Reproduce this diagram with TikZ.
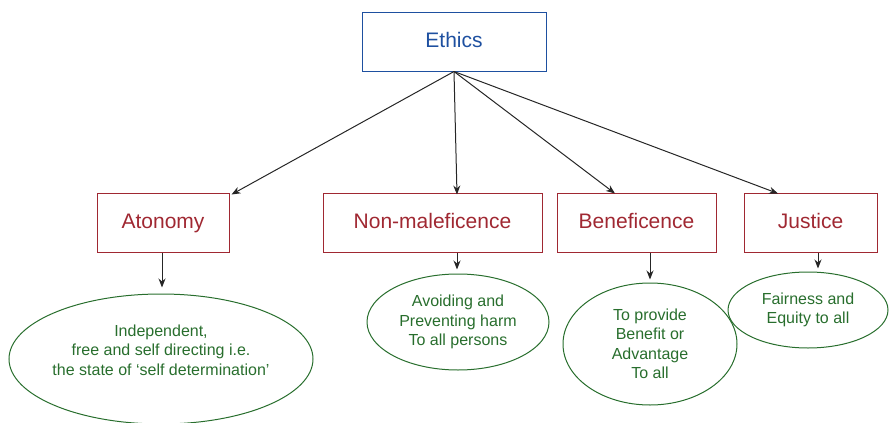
\documentclass[tikz,border=0pt]{standalone}
\usepackage{fontspec}
\setmainfont{Liberation Sans}
\usetikzlibrary{shapes.geometric,arrows.meta}
\definecolor{ethblue}{RGB}{30,80,160}
\definecolor{boxred}{RGB}{160,40,50}
\definecolor{ellgreen}{RGB}{40,110,45}
\tikzset{
  topbox/.style={draw=ethblue, line width=1pt, text=ethblue, minimum width=184pt, minimum height=59pt, inner sep=0pt, text height=15pt, text depth=2.5pt, font=\fontsize{21}{25}\selectfont},
  princbox/.style={draw=boxred, line width=1pt, text=boxred, minimum height=59pt, inner sep=0pt, text height=15pt, text depth=2.5pt, font=\fontsize{21}{25}\selectfont},
  ell/.style={ellipse, draw=ellgreen, line width=1pt, text=ellgreen, inner sep=0pt, align=center, font=\fontsize{16}{19.5}\selectfont},
  elltext/.style={text=ellgreen, align=center, inner sep=0pt, font=\fontsize{16}{19.5}\selectfont},
  arr/.style={draw=black!85, line width=1pt, -{Stealth[length=9pt,width=7pt]}}
}
\begin{document}
\begin{tikzpicture}[x=1pt,y=-1pt]
\useasboundingbox (0,0) rectangle (889,423);
\node[topbox] (eth) at (454,41.5) {Ethics};
\node[princbox, minimum width=132pt] (ato) at (163,222.5) {Atonomy};
\node[princbox, minimum width=219pt] (nm) at (432.5,222.5) {Non-maleficence};
\node[princbox, minimum width=159pt] (ben) at (636.5,222.5) {Beneficence};
\node[princbox, minimum width=133pt] (jus) at (810.5,222.5) {Justice};

\node[ell, minimum width=304pt, minimum height=130pt] (e1) at (161,359) {};
\node[elltext] (t1) at (161,350) {Independent,\\free and self directing i.e.\\the state of `self determination'};
\node[ell, minimum width=182pt, minimum height=96pt] (e2) at (458,322) {Avoiding and\\Preventing harm\\To all persons};
\node[ell, minimum width=174pt, minimum height=122pt] (e3) at (650,344) {To provide\\Benefit or\\Advantage\\To all};
\node[ell, minimum width=160pt, minimum height=76pt] (e4) at (808,310) {Fairness and\\Equity to all};

\draw[arr] (eth.south) -- ([xshift=2pt,yshift=-2pt]ato.north east);
\draw[arr] (eth.south) -- ([xshift=24.5pt,yshift=-2pt]nm.north);
\draw[arr] (eth.south) -- ([xshift=-21.5pt,yshift=-1pt]ben.north);
\draw[arr] (eth.south) -- ([xshift=-32.5pt,yshift=-1pt]jus.north);

\draw[arr, shorten >=6pt] ([xshift=-1pt]ato.south) -- ([xshift=-1pt]ato.south |- e1.north);
\draw[arr, shorten >=4pt] ([xshift=24.5pt]nm.south) -- ([xshift=24.5pt]nm.south |- e2.north);
\draw[arr, shorten >=3pt] ([xshift=13.5pt]ben.south) -- ([xshift=13.5pt]ben.south |- e3.north);
\draw[arr, shorten >=3pt] ([xshift=7.5pt]jus.south) -- ([xshift=7.5pt]jus.south |- e4.north);
\end{tikzpicture}
\end{document}
